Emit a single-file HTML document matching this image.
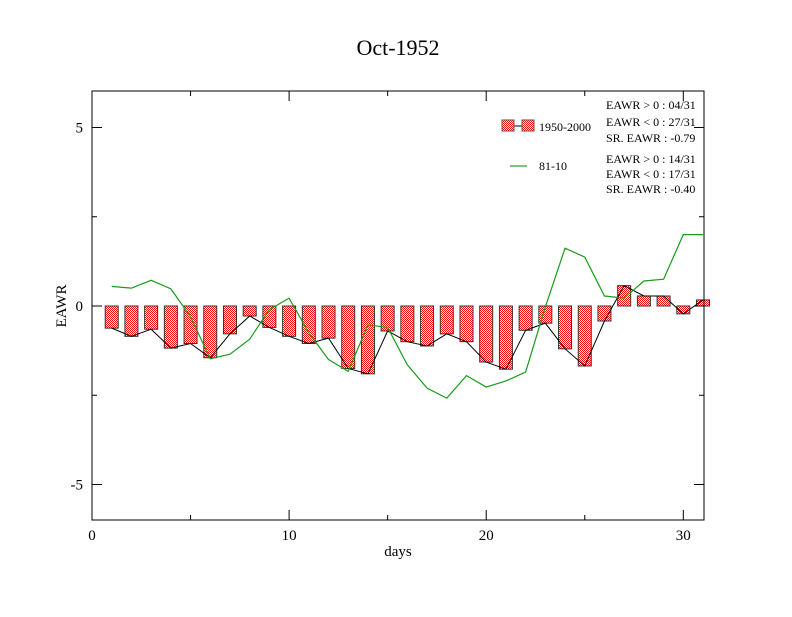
<!DOCTYPE html>
<html><head><meta charset="utf-8"><style>
body{margin:0;background:#fff}
text{font-family:"Liberation Serif",serif;fill:#000}
</style></head><body>
<svg id="chart" width="792" height="612" xmlns="http://www.w3.org/2000/svg">
<defs>
<pattern id="chk" width="2" height="2" patternUnits="userSpaceOnUse">
<rect width="2" height="2" fill="#fff"/><rect width="1" height="1" fill="#f00"/><rect x="1" y="1" width="1" height="1" fill="#f00"/>
</pattern>
</defs>
<rect width="792" height="612" fill="#fff"/>
<text x="398" y="55" font-size="22" text-anchor="middle">Oct-1952</text>
<g id="plot"></g>
<rect x="92" y="91" width="612" height="429" fill="none" stroke="#000" stroke-width="1"/>
<text x="398" y="556" font-size="15" text-anchor="middle">days</text>
<text transform="translate(66,306) rotate(-90)" font-size="15" text-anchor="middle">EAWR</text>
<g>
<line x1="508" y1="126" x2="530" y2="126" stroke="#000"/>
<rect x="502" y="120" width="12" height="11" fill="url(#chk)" stroke="#555"/>
<rect x="522" y="120" width="12" height="11" fill="url(#chk)" stroke="#555"/>
<text x="539" y="131" font-size="12">1950-2000</text>
<line x1="510" y1="166" x2="527" y2="166" stroke="#008000"/>
<text x="539" y="170" font-size="12">81-10</text>
<g font-size="12">
<text x="606" y="109">EAWR &gt; 0 : 04/31</text>
<text x="606" y="126">EAWR &lt; 0 : 27/31</text>
<text x="606" y="142">SR. EAWR : -0.79</text>
<text x="606" y="163">EAWR &gt; 0 : 14/31</text>
<text x="606" y="178">EAWR &lt; 0 : 17/31</text>
<text x="606" y="193">SR. EAWR : -0.40</text>
</g>
</g>
</svg>
<script>
const days = [1,2,3,4,5,6,7,8,9,10,11,12,13,14,15,16,17,18,19,20,21,22,23,24,25,26,27,28,29,30,31];
const eawr1952 = [-0.62,-0.85,-0.65,-1.18,-1.05,-1.45,-0.78,-0.28,-0.6,-0.85,-1.05,-0.9,-1.75,-1.9,-0.7,-1.0,-1.12,-0.78,-1.0,-1.57,-1.77,-0.68,-0.48,-1.2,-1.68,-0.42,0.57,0.28,0.28,-0.22,0.17];
const clim8110 = [0.55,0.5,0.72,0.48,-0.3,-1.48,-1.35,-0.93,-0.1,0.22,-0.75,-1.5,-1.83,-0.53,-0.6,-1.65,-2.3,-2.58,-1.95,-2.27,-2.1,-1.85,-0.03,1.62,1.37,0.28,0.22,0.7,0.75,2.0,2.0];
const xTicks = [0,10,20,30];
const yTicks = [5,0,-5];
const NS="http://www.w3.org/2000/svg";
const X = d => 92 + d*(612/31.05);
const Y = v => 306 - v*35.7;
const g = document.getElementById('plot');
function mk(t,a){const e=document.createElementNS(NS,t);for(const k in a)e.setAttribute(k,a[k]);g.appendChild(e);return e;}
const bw = 13;
days.forEach((d,i)=>{
  const v=eawr1952[i];
  const y0=Math.min(Y(0),Y(v)), h=Math.abs(Y(v)-Y(0));
  const r=mk('rect',{x:X(d)-bw/2,y:y0,width:bw,height:h,fill:'url(#chk)',stroke:'#333','stroke-width':1});
  
  
});
const bl=mk('polyline',{points:days.map((d,i)=>X(d)+','+Y(eawr1952[i])).join(' '),fill:'none',stroke:'#000','stroke-width':1});


const gl=mk('polyline',{points:days.map((d,i)=>X(d)+','+Y(clim8110[i])).join(' '),fill:'none',stroke:'#1a9a1a','stroke-width':1.2});


// ticks
[0,5,10,15,20,25,30].forEach(t=>{
  const L = t%10===0?10:5;
  mk('line',{x1:X(t),y1:520,x2:X(t),y2:520-L,stroke:'#000'});
  mk('line',{x1:X(t),y1:91,x2:X(t),y2:91+L,stroke:'#000'});
});
[5,2.5,0,-2.5,-5].forEach(t=>{
  const L = t%5===0?10:5;
  mk('line',{x1:92,y1:Y(t),x2:92+L,y2:Y(t),stroke:'#000'});
  mk('line',{x1:704,y1:Y(t),x2:704-L,y2:Y(t),stroke:'#000'});
});
xTicks.forEach(t=>{
  const e=mk('text',{x:X(t),y:540,'font-size':15,'text-anchor':'middle'});e.textContent=t;
  
  
});
yTicks.forEach(t=>{
  const e=mk('text',{x:83,y:Y(t)+5,'font-size':15,'text-anchor':'end'});e.textContent=t;
  
  
});
</script>
</body></html>
